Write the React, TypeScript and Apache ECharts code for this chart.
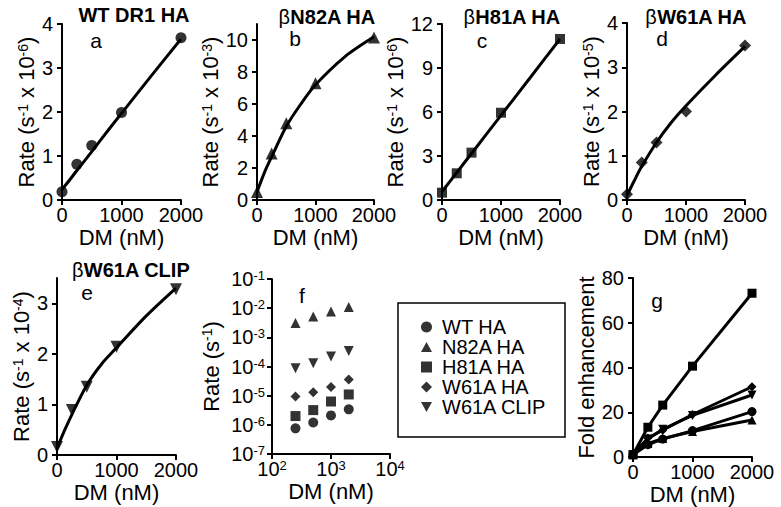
import React, { useEffect, useRef } from 'react';
import * as echarts from 'echarts';

// ---- data ----
const dm = [0, 250, 500, 1000, 2000];
const rateWT = [0.19, 0.81, 1.24, 1.99, 3.69]; // x 1e-6
const rateN82A = [0.5, 2.9, 4.8, 7.3, 10.15]; // x 1e-3
const rateH81A = [0.5, 1.82, 3.23, 5.95, 10.98]; // x 1e-6
const rateW61A = [0.13, 0.85, 1.3, 2.0, 3.49]; // x 1e-5
const rateCLIP = [0.16, 0.89, 1.35, 2.14, 3.28]; // x 1e-4

const fitDM = [0, 125, 250, 500, 750, 1000, 1500, 2000];
const fitWT = [0.24, 0.45, 0.67, 1.1, 1.54, 1.97, 2.82, 3.66];
const fitN82A = [0.5, 1.7, 2.7, 4.6, 6.0, 7.2, 8.95, 10.2];
const fitH81A = [0.57, 1.22, 1.87, 3.17, 4.47, 5.77, 8.37, 10.98];
const fitW61A = [0.1, 0.44, 0.76, 1.3, 1.75, 2.13, 2.82, 3.47];
const fitCLIP = [0.13, 0.48, 0.8, 1.38, 1.8, 2.12, 2.75, 3.3];

const logDM = [250, 500, 1000, 2000];
const logWT = [7.6e-7, 1.2e-6, 2.1e-6, 3.4e-6];
const logN82A = [3.1e-3, 5.2e-3, 7.7e-3, 1.1e-2];
const logH81A = [2.0e-6, 3.2e-6, 6.3e-6, 1.1e-5];
const logW61A = [9.3e-6, 1.3e-5, 2.0e-5, 3.6e-5];
const logCLIP = [8.7e-5, 1.3e-4, 2.2e-4, 3.4e-4];

const foldWT = [1, 5.5, 8, 11.8, 20.3];
const foldN82A = [1, 6, 8.3, 11.4, 16.5];
const foldH81A = [1, 13.3, 23.2, 40.6, 73.2];
const foldW61A = [1, 8.5, 12, 19, 31.4];
const foldCLIP = [1, 8, 12.4, 18.6, 27.7];

const legendNames = ['WT HA', 'N82A HA', 'H81A HA', 'W61A HA', 'W61A CLIP'];
const panelTitles = ['WT DR1 HA', 'N82A HA', 'H81A HA', 'W61A HA', 'W61A CLIP'];
const panelLetters = ['a', 'b', 'c', 'd', 'e', 'f', 'g'];

const INV_TRI = 'path://M0,0 L10,0 L5,9 Z';
const TRI = 'path://M5,0 L10,9 L0,9 Z';
const symbols = ['circle', TRI, 'rect', 'diamond', INV_TRI];

const FONT = 'Liberation Sans';
const zip = (xs: number[], ys: number[]) => xs.map((x, i) => [x, ys[i]]);

export default function App() {
  const ref = useRef<HTMLDivElement>(null);
  useEffect(() => {
    document.body.style.margin = '0';
    const chart = echarts.init(ref.current!, null, { renderer: 'svg' });

    const grids = [
      { left: 62, top: 24, width: 119, height: 176 },
      { left: 257, top: 24, width: 117, height: 176 },
      { left: 442, top: 24, width: 118, height: 176 },
      { left: 627, top: 23, width: 118, height: 177 },
      { left: 57, top: 278, width: 119, height: 177 },
      { left: 272, top: 279, width: 118, height: 175 },
      { left: 633, top: 278, width: 119, height: 179 },
    ];

    const axisLine = { show: true, onZero: false, lineStyle: { color: '#000', width: 2 } };
    const axisTick = { show: true, length: 5, lineStyle: { color: '#000', width: 2 } };
    const labelBase = { color: '#000', fontSize: 20, fontFamily: FONT };
    const supRich = { s: { fontSize: 13, fontFamily: FONT, color: '#000', verticalAlign: 'top' } };
    const nameSup = { s: { fontSize: 14, fontFamily: FONT, color: '#000', verticalAlign: 'top' } };
    const plain = (v: number) => String(v);

    const xLin = (gi: number) => ({
      type: 'value', gridIndex: gi, min: 0, max: 2000, interval: 1000,
      axisLine, axisTick, splitLine: { show: false },
      axisLabel: { ...labelBase, margin: 5, formatter: plain },
      name: 'DM (nM)', nameLocation: 'middle', nameGap: 26,
      nameTextStyle: { color: '#000', fontSize: 22, fontFamily: FONT },
    });
    const yLin = (gi: number, max: number, interval: number, name: string, gap: number, ticks?: number[]) => ({
      type: 'value', gridIndex: gi, min: 0, max, interval,
      axisLine, axisTick: ticks ? { ...axisTick, customValues: ticks } : axisTick,
      splitLine: { show: false },
      axisLabel: ticks
        ? { ...labelBase, margin: 9, formatter: plain, customValues: ticks }
        : { ...labelBase, margin: 9, formatter: plain },
      name, nameLocation: 'middle', nameGap: gap, nameRotate: 90,
      nameTextStyle: { color: '#000', fontSize: 22, fontFamily: FONT, rich: nameSup },
    });

    const expFmt = (v: number) => `10{s|${Math.round(Math.log10(v))}}`;

    const xAxis: any[] = [
      xLin(0), xLin(1), xLin(2), xLin(3), xLin(4),
      {
        type: 'log', logBase: 10, gridIndex: 5, min: 100, max: 10000, splitNumber: 2,
        axisLine, axisTick, splitLine: { show: false }, minorTick: { show: false },
        axisLabel: { ...labelBase, margin: 5, formatter: expFmt, rich: supRich },
        name: 'DM (nM)', nameLocation: 'middle', nameGap: 26,
        nameTextStyle: { color: '#000', fontSize: 22, fontFamily: FONT },
      },
      xLin(6),
    ];
    const yAxis: any[] = [
      yLin(0, 4, 1, 'Rate (s{s|-1} x 10{s|-6})', 23),
      yLin(1, 11, 2, 'Rate (s{s|-1} x 10{s|-3})', 23, [0, 2, 4, 6, 8, 10]),
      yLin(2, 12, 3, 'Rate (s{s|-1} x 10{s|-6})', 23),
      yLin(3, 4, 1, 'Rate (s{s|-1} x 10{s|-5})', 23),
      yLin(4, 3.5, 1, 'Rate (s{s|-1} x 10{s|-4})', 23, [0, 1, 2, 3]),
      {
        type: 'log', logBase: 10, gridIndex: 5, min: 1e-7, max: 1e-1, splitNumber: 6,
        axisLine, axisTick, splitLine: { show: false }, minorTick: { show: false },
        axisLabel: { ...labelBase, margin: 7, formatter: expFmt, rich: supRich },
        name: 'Rate (s{s|-1})', nameLocation: 'middle', nameGap: 50, nameRotate: 90,
        nameTextStyle: { color: '#000', fontSize: 22, fontFamily: FONT, rich: nameSup },
      },
      yLin(6, 80, 20, 'Fold enhancement', 30),
    ];

    const series: any[] = [];
    const rates = [rateWT, rateN82A, rateH81A, rateW61A, rateCLIP];
    const fits = [fitWT, fitN82A, fitH81A, fitW61A, fitCLIP];
    const logs = [logWT, logN82A, logH81A, logW61A, logCLIP];
    const folds = [foldWT, foldN82A, foldH81A, foldW61A, foldCLIP];
    const sizes = [11, 12, 10, 12, 12];

    for (let i = 0; i < 5; i++) {
      series.push({
        type: 'line', name: 'fit ' + panelLetters[i], xAxisIndex: i, yAxisIndex: i,
        data: zip(fitDM, fits[i]), smooth: 0.3, showSymbol: false, symbol: 'none',
        lineStyle: { color: '#000', width: 3 }, z: 2, silent: true,
      });
      series.push({
        type: 'scatter', name: 'pts ' + panelLetters[i], xAxisIndex: i, yAxisIndex: i,
        data: zip(dm, rates[i]), symbol: symbols[i], symbolSize: sizes[i],
        itemStyle: { color: '#000' }, z: 3,
      });
      series.push({
        type: 'scatter', name: legendNames[i], xAxisIndex: 5, yAxisIndex: 5,
        data: zip(logDM, logs[i]), symbol: symbols[i], symbolSize: 10,
        itemStyle: { color: '#000' },
      });
      series.push({
        type: 'line', name: 'fold ' + legendNames[i], xAxisIndex: 6, yAxisIndex: 6,
        data: zip(dm, folds[i]), symbol: symbols[i], symbolSize: 9, showSymbol: true,
        itemStyle: { color: '#000' }, lineStyle: { color: '#000', width: 3 },
      });
    }

    const titlePos = [
      [134, 15], [327, 17], [512, 17], [696, 17], [131, 270],
    ];
    const letterPos = [
      [96, 40], [295, 38], [482, 40], [662, 38], [87, 292], [302, 295], [657, 300],
    ];
    const graphic: any[] = [
      {
        type: 'rect', shape: { x: 398, y: 303, width: 167, height: 134 },
        style: { fill: 'none', stroke: '#000', lineWidth: 1.5 }, silent: true,
      },
    ];
    panelTitles.forEach((t, i) => {
      graphic.push({
        type: 'text', x: titlePos[i][0], y: titlePos[i][1],
        style: {
          text: i === 0 ? `{b|${t}}` : `{g|β}{b|${t}}`,
          align: 'center', verticalAlign: 'middle',
          rich: {
            b: { fontSize: 20, fontWeight: 'bold', fontFamily: FONT, fill: '#000', lineHeight: 20 },
            g: { fontSize: 20, fontFamily: FONT, fill: '#000', lineHeight: 20 },
          },
        },
      });
    });
    panelLetters.forEach((l, i) => {
      graphic.push({
        type: 'text', x: letterPos[i][0], y: letterPos[i][1],
        style: {
          text: l, align: 'center', verticalAlign: 'middle',
          fontSize: 21, fontFamily: FONT, fill: '#000', lineHeight: 15,
        },
      });
    });

    chart.setOption({
      animation: false,
      backgroundColor: '#fff',
      grid: grids,
      xAxis,
      yAxis,
      series,
      graphic,
      legend: {
        data: legendNames.map((n, i) => ({ name: n, icon: symbols[i] })),
        orient: 'vertical', left: 421, top: 317,
        itemWidth: 11, itemHeight: 11, itemGap: 0,
        padding: 0,
        textStyle: { color: '#000', fontSize: 20, fontFamily: FONT, lineHeight: 20, padding: [0, 0, 0, 5] },
        selectedMode: false,
        itemStyle: { color: '#000' },
      },
    });
    return () => chart.dispose();
  }, []);
  return <div ref={ref} style={{ position: 'fixed', left: 0, top: 0, width: 781, height: 507 }} />;
}
